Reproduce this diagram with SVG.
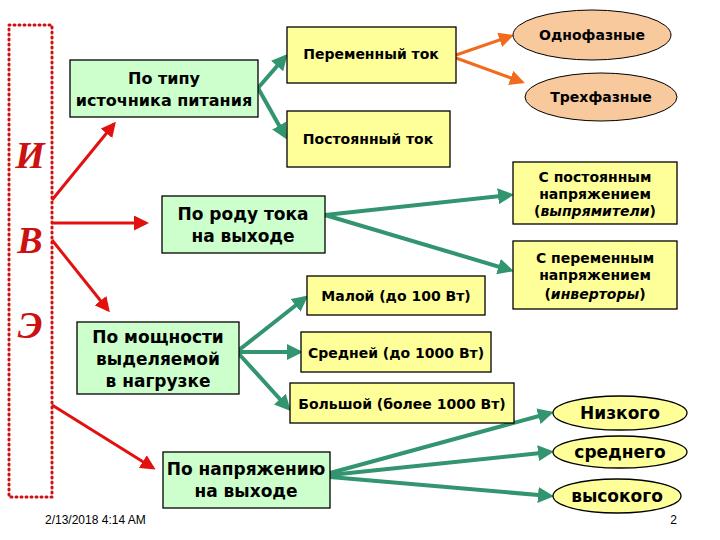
<svg xmlns="http://www.w3.org/2000/svg" width="720" height="540" viewBox="0 0 720 540">
<style>
text{font-family:"DejaVu Sans","Liberation Sans",sans-serif;font-weight:bold;font-size:14px;text-anchor:middle;fill:#000}
.g{fill:#ccffcc;stroke:#000;stroke-width:1.3}
.y{fill:#ffff99;stroke:#000;stroke-width:1.3}
.o{fill:#f8c99c;stroke:#000;stroke-width:1}
.big{font-size:17px}
.L{font-family:"Liberation Serif",serif;font-style:italic;font-weight:bold;font-size:38px;fill:#cc1111;text-anchor:middle}
.cg{stroke:#339470;stroke-width:4;fill:none;marker-end:url(#ag)}
.cr{stroke:#e31010;stroke-width:3;fill:none;marker-end:url(#ar)}
.co{stroke:#f26b1d;stroke-width:3;fill:none;marker-end:url(#ao)}
</style>
<defs>
<marker id="ag" markerWidth="4" markerHeight="4" refX="3" refY="2" orient="auto"><path d="M0,0L4,2L0,4z" fill="#339470"/></marker>
<marker id="ar" markerWidth="5" markerHeight="5" refX="4" refY="2.5" orient="auto"><path d="M0,0L5,2.5L0,5z" fill="#e31010"/></marker>
<marker id="ao" markerWidth="5" markerHeight="5" refX="4" refY="2.5" orient="auto"><path d="M0,0L5,2.5L0,5z" fill="#f26b1d"/></marker>
</defs>
<g id="frame"><rect x="9" y="25" width="43" height="472" fill="none" stroke="#cc1111" stroke-width="3" stroke-dasharray="1,4" stroke-linecap="round"/>
<text class="L" x="30" y="168">И</text><text class="L" x="30" y="253">В</text><text class="L" x="30" y="338">Э</text></g>
<g id="connectors">
<path class="cr" d="M52,200L114,124"/><path class="cr" d="M52,223L146,223"/><path class="cr" d="M52,240L108,310"/><path class="cr" d="M52,405L153,468"/>
<path class="cg" d="M258,88L285,57"/><path class="cg" d="M258,88L285,136"/>
<path class="co" d="M456,55L511,36"/><path class="co" d="M456,58L522,82"/>
<path class="cg" d="M325,215L510,195"/><path class="cg" d="M325,215L510,270"/>
<path class="cg" d="M239,350L305,298"/><path class="cg" d="M239,352L299,352"/><path class="cg" d="M239,354L288,408"/>
<path class="cg" d="M330,473L550,413"/><path class="cg" d="M330,475L550,452"/><path class="cg" d="M330,477L550,496"/>
</g>
<g id="n1"><rect class="g" x="70" y="60" width="188" height="57"/><text class="big" x="164" y="84" style="font-size:16px">По типу</text><text x="164" y="106" style="font-size:16px">источника питания</text></g>
<g id="n2"><rect class="y" x="287" y="27" width="169" height="56"/><text x="371" y="59">Переменный ток</text></g>
<g id="n3"><rect class="y" x="287" y="111" width="163" height="56"/><text x="368" y="144">Постоянный ток</text></g>
<g id="n4"><ellipse class="o" cx="592" cy="35" rx="79" ry="25"/><text x="592" y="40">Однофазные</text></g>
<g id="n5"><ellipse class="o" cx="601" cy="97" rx="76" ry="24"/><text x="601" y="102">Трехфазные</text></g>
<g id="n6"><rect class="g" x="162" y="196" width="163" height="57"/><text class="big" x="243" y="220">По роду тока</text><text class="big" x="243" y="242">на выходе</text></g>
<g id="n7"><rect class="y" x="513" y="162" width="164" height="62"/><text x="595" y="182">С постоянным</text><text x="595" y="199">напряжением</text><text x="595" y="216">(<tspan font-style="italic">выпрямители</tspan>)</text></g>
<g id="n8"><rect class="y" x="513" y="241" width="164" height="68"/><text x="595" y="263">С переменным</text><text x="595" y="280">напряжением</text><text x="595" y="299">(<tspan font-style="italic">инверторы</tspan>)</text></g>
<g id="n9"><rect class="y" x="307" y="276" width="178" height="39"/><text x="396" y="301">Малой (до 100 Вт)</text></g>
<g id="n10"><rect class="y" x="301" y="332" width="190" height="40"/><text x="396" y="358">Средней (до 1000 Вт)</text></g>
<g id="n11"><rect class="y" x="290" y="383" width="224" height="40"/><text x="402" y="409">Большой (более 1000 Вт)</text></g>
<g id="n12"><rect class="g" x="77" y="322" width="162" height="72"/><text class="big" x="158" y="343">По мощности</text><text class="big" x="158" y="365">выделяемой</text><text class="big" x="158" y="387">в нагрузке</text></g>
<g id="n13"><rect class="g" x="163" y="452" width="167" height="56"/><text class="big" x="246" y="475">По напряжению</text><text class="big" x="246" y="497">на выходе</text></g>
<g id="n14"><ellipse class="y" cx="620" cy="413" rx="67" ry="17"/><text class="big" x="620" y="419">Низкого</text></g>
<g id="n15"><ellipse class="y" cx="620" cy="452" rx="67" ry="16"/><text class="big" x="620" y="458">среднего</text></g>
<g id="n16"><ellipse class="y" cx="617" cy="496" rx="64" ry="17"/><text class="big" x="617" y="502">высокого</text></g>
<text x="45" y="524" style="font-family:'Liberation Sans',sans-serif;font-weight:normal;font-size:12px;text-anchor:start">2/13/2018 4:14 AM</text>
<text x="677" y="524" style="font-family:'Liberation Sans',sans-serif;font-weight:normal;font-size:12px;text-anchor:end">2</text>
</svg>
